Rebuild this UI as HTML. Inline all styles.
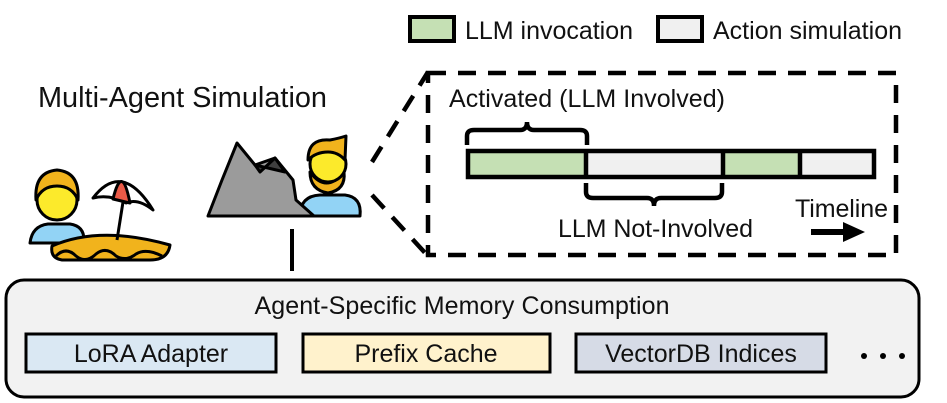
<!DOCTYPE html>
<html><head><style>body{margin:0;background:#fff}svg{display:block}text{font-family:"Liberation Sans",Arial,sans-serif;fill:#111}</style></head><body>
<svg width="947" height="403" viewBox="0 0 947 403">
<!-- legend -->
<rect x="410" y="17" width="44" height="24" fill="#c5e0b4" stroke="#000" stroke-width="4"/>
<text x="465" y="39" font-size="25" textLength="168">LLM invocation</text>
<rect x="658" y="17" width="44" height="24" fill="#f0f0f0" stroke="#000" stroke-width="4"/>
<text x="713" y="39" font-size="25" textLength="189">Action simulation</text>
<text x="38" y="107" font-size="29" textLength="289" lengthAdjust="spacingAndGlyphs">Multi-Agent Simulation</text>
<!-- beach emoji -->
<g stroke="#000" stroke-width="3" stroke-linejoin="round">
<path d="M30 243 Q32 226 48 224 L70 224 Q84 226 84 240 L84 243 Z" fill="#92d3f5"/>
<circle cx="57" cy="200" r="20" fill="#fcea2b"/>
<path d="M36 200 Q34 172 57 170 Q80 172 78 200 Q72 186 57 186 Q42 186 36 200Z" fill="#f1b31c"/>
<path d="M52 246 Q100 225 170 245 Q168 260 150 260 L62 260 Q50 258 52 246Z" fill="#f1b31c"/>
<path d="M56 256 Q66 246 76 256 Q86 264 96 254 Q106 246 116 256 Q126 262 136 254 Q146 248 162 256" fill="none"/>
<path d="M93 198 Q122 160 153 210 Q138 198 126 203 Q110 194 93 198Z" fill="#fff"/>
<path d="M113 199 Q122 162 130 203 Z" fill="#ea5a47"/>
<line x1="123" y1="202" x2="117" y2="240"/>
</g>
<!-- mountain + person -->
<g stroke="#000" stroke-width="3" stroke-linejoin="round">
<path d="M300 216 Q300 196 320 195 L345 195 Q362 197 360 216 Z" fill="#92d3f5"/>
<path d="M310 172 Q326 194 344 172 Q346 190 328 193 Q310 190 310 172Z" fill="#f1b31c"/>
<circle cx="328" cy="164" r="18" fill="#fcea2b"/>
<path d="M308 160 Q308 138 330 140 Q340 138 346 136 L345 160 Q338 152 328 152 Q316 152 308 160Z" fill="#f1b31c"/>
<path d="M208 216 L222 180 L237 143 L255 165 L275 158 L293 180 L296 200 L314 216 Z" fill="#9b9b9b"/>
<path d="M255 165 L260 172 L275 158 L285 172 Z" fill="#3f3f3f"/>
</g>
<!-- zoom dashed lines -->
<g stroke="#000" stroke-width="4.5" stroke-dasharray="18,12" fill="none">
<line x1="372" y1="162" x2="428" y2="72"/>
<line x1="372" y1="195" x2="427" y2="255"/>
<rect x="428" y="73" width="468" height="182"/>
</g>
<line x1="292" y1="229" x2="292" y2="271" stroke="#000" stroke-width="4"/>
<text x="449" y="107" font-size="25" textLength="276">Activated (LLM Involved)</text>
<rect x="468" y="151" width="120" height="26" fill="#c5e0b4"/>
<rect x="588" y="151" width="137" height="26" fill="#f0f0f0"/>
<rect x="725" y="151" width="77" height="26" fill="#c5e0b4"/>
<rect x="802" y="151" width="72" height="26" fill="#f0f0f0"/>
<g stroke="#000" stroke-width="4.5" fill="none">
<rect x="468" y="151" width="406" height="26"/>
<line x1="586" y1="151" x2="586" y2="177"/><line x1="723" y1="151" x2="723" y2="177"/><line x1="800" y1="151" x2="800" y2="177"/>
<path d="M467 145 L467 136 Q467 130 474 130 L520 130 Q527 130 527 122 Q527 130 534 130 L580 130 Q587 130 587 136 L587 145"/>
<path d="M586 183 L586 192 Q586 198 593 198 L647 198 Q654 198 654 206 Q654 198 661 198 L715 198 Q722 198 722 192 L722 183"/>
</g>
<text x="558" y="237" font-size="25" textLength="195">LLM Not-Involved</text>
<text x="795" y="217" font-size="25" textLength="93">Timeline</text>
<path d="M811 229 L843 229 L843 222 L865 232 L843 242 L843 235 L811 235 Z" fill="#000"/>
<!-- bottom box -->
<rect x="6" y="280" width="913" height="117" rx="18" fill="#f2f2f2" stroke="#000" stroke-width="3"/>
<text x="462" y="314" font-size="25" text-anchor="middle" textLength="415">Agent-Specific Memory Consumption</text>
<rect x="26" y="334" width="250" height="38" fill="#dae8f3" stroke="#000" stroke-width="3"/>
<text x="151" y="362" font-size="25" text-anchor="middle">LoRA Adapter</text>
<rect x="303" y="334" width="247" height="38" fill="#fff2cc" stroke="#000" stroke-width="3"/>
<text x="426" y="362" font-size="25" text-anchor="middle">Prefix Cache</text>
<rect x="576" y="334" width="250" height="38" fill="#d6dbe6" stroke="#000" stroke-width="3"/>
<text x="701" y="362" font-size="25" text-anchor="middle">VectorDB Indices</text>
<circle cx="864" cy="356" r="3" fill="#000"/><circle cx="883" cy="356" r="3" fill="#000"/><circle cx="902" cy="356" r="3" fill="#000"/>
</svg>
</body></html>
